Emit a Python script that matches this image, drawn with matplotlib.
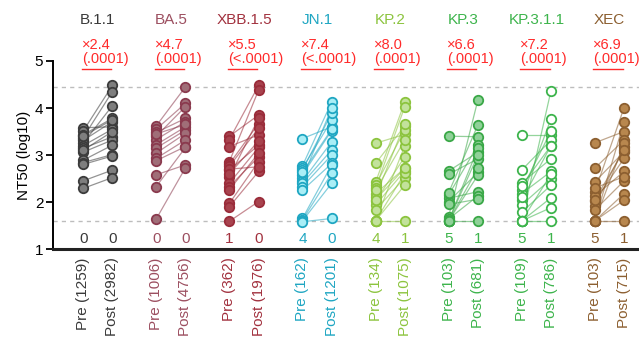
import matplotlib
matplotlib.use("Agg")
import matplotlib.pyplot as plt

plt.rcParams['font.family'] = ['Liberation Sans', 'DejaVu Sans']

# variant panels, pre/post NT50 (log10) pairs
variants = ["B.1.1", "BA.5", "XBB.1.5", "JN.1", "KP.2", "KP.3", "KP.3.1.1", "XEC"]
fold_labels = ["×2.4", "×4.7", "×5.5", "×7.4", "×8.0", "×6.6", "×7.2", "×6.9"]
p_labels = ["(.0001)", "(.0001)", "(<.0001)", "(<.0001)", "(.0001)", "(.0001)", "(.0001)", "(.0001)"]
pre_gmt = [1259, 1006, 362, 162, 134, 103, 109, 103]
post_gmt = [2982, 4756, 1976, 1201, 1075, 681, 786, 715]
pre_below = [0, 0, 1, 4, 4, 5, 5, 5]
post_below = [0, 0, 0, 0, 1, 1, 1, 1]

pre_b11 = [3.58, 3.51, 3.43, 3.37, 3.31, 3.25, 3.20, 3.14, 3.06, 2.89, 2.84, 2.80, 2.45, 2.29, 3.40, 3.10]
post_b11 = [3.60, 4.48, 3.78, 4.35, 3.71, 4.05, 3.55, 3.39, 3.32, 3.21, 3.01, 2.98, 2.68, 2.52, 3.75, 3.50]
pre_ba5 = [3.62, 3.55, 3.48, 3.40, 3.33, 3.22, 3.15, 3.04, 2.93, 2.88, 2.58, 2.33, 1.64, 3.45]
post_ba5 = [4.45, 4.10, 3.78, 4.03, 3.71, 3.60, 3.53, 3.46, 3.32, 3.18, 2.79, 3.16, 2.73, 3.65]
pre_xbb = [3.40, 3.33, 3.18, 2.86, 2.81, 2.76, 2.68, 2.53, 2.40, 2.33, 2.26, 1.97, 1.90, 1.59, 2.70, 2.60]
post_xbb = [3.85, 4.48, 3.43, 4.38, 3.67, 3.57, 3.21, 3.78, 3.16, 2.96, 3.04, 2.86, 2.65, 2.01, 2.75, 3.30]
pre_jn1 = [3.35, 2.77, 2.72, 2.68, 2.58, 2.51, 2.45, 2.40, 2.33, 2.25, 1.65, 1.62, 1.60, 1.58, 2.63]
post_jn1 = [3.60, 4.13, 3.74, 3.89, 3.52, 4.00, 3.28, 3.11, 3.00, 2.82, 2.79, 2.61, 2.40, 1.65, 3.55]
pre_kp2 = [3.25, 2.82, 2.42, 2.36, 2.29, 2.18, 2.11, 2.02, 1.94, 1.83, 1.60, 1.60, 1.60, 1.60, 2.25, 2.05]
post_kp2 = [3.44, 3.62, 4.13, 3.53, 4.03, 2.72, 3.67, 2.96, 2.66, 2.52, 1.60, 2.61, 3.20, 2.36, 3.32, 2.72]
pre_kp3 = [3.40, 2.66, 2.59, 2.15, 2.08, 2.01, 1.69, 1.64, 1.60, 1.60, 1.60, 1.60, 1.60, 2.20, 1.95]
post_kp3 = [3.39, 3.06, 2.92, 3.21, 2.22, 2.63, 4.17, 2.13, 1.60, 3.14, 2.57, 3.00, 2.72, 3.64, 2.06]
pre_kp311 = [3.43, 2.68, 2.41, 2.26, 2.18, 2.04, 1.94, 1.78, 1.60, 1.60, 1.60, 1.60, 1.60, 2.10, 2.35]
post_kp311 = [3.43, 3.32, 2.92, 3.51, 2.65, 3.20, 2.49, 2.36, 4.37, 1.60, 2.09, 1.88, 2.59, 3.77, 3.20]
pre_xec = [3.26, 2.72, 2.43, 2.22, 2.13, 2.02, 1.92, 1.83, 1.60, 1.60, 1.60, 1.60, 1.60, 2.30, 2.05]
post_xec = [3.50, 3.32, 3.07, 4.01, 2.65, 2.93, 3.16, 2.45, 3.71, 1.60, 2.18, 2.04, 3.25, 2.54, 3.10]

pre_all = [pre_b11, pre_ba5, pre_xbb, pre_jn1, pre_kp2, pre_kp3, pre_kp311, pre_xec]
post_all = [post_b11, post_ba5, post_xbb, post_jn1, post_kp2, post_kp3, post_kp311, post_xec]

lod = 1.60
upper = 4.45

# text colour, marker face, marker edge
text_colors = ["#3a3a3a", "#9c4f60", "#a2323f", "#1fa6c2", "#8cc43e", "#3db44c", "#3db44c", "#8c5f30"]
face_colors = ["#7e7e7e", "#a06e78", "#a8434e", "#a9eef6", "#c2e29b", "#8fd198", "#ffffff", "#b8874e"]
edge_colors = ["#3c3c3c", "#8a3a4e", "#9a2c3a", "#1fa6c2", "#8cc43e", "#3aa847", "#3db44c", "#8c5f30"]

fig = plt.figure(figsize=(6.39, 3.37), dpi=100)
ax = fig.add_axes([0.083, 0.261, 0.917, 0.558])

ax.axhline(upper, color="#bdbdbd", ls=(0, (3, 3)), lw=1, zorder=0)
ax.axhline(lod, color="#bdbdbd", ls=(0, (3, 3)), lw=1, zorder=0)

tick_pos = []
tick_lab = []
tick_col = []
for i, name in enumerate(variants):
    x0 = 2.5 * i
    x1 = x0 + 1
    pre = pre_all[i]
    post = post_all[i]
    for a, b in zip(pre, post):
        ax.plot([x0, x1], [a, b], color=edge_colors[i], lw=0.9, alpha=0.55, zorder=2)
    ax.plot([x0] * len(pre), pre, "o", ms=6.8, mfc=face_colors[i], mec=edge_colors[i],
            mew=1.3, zorder=3, clip_on=False)
    ax.plot([x1] * len(post), post, "o", ms=6.8, mfc=face_colors[i], mec=edge_colors[i],
            mew=1.3, zorder=3, clip_on=False)

    # headers above the panel
    ax.text(x0 + 0.5, 5.87, name, ha="center", va="center", fontsize=11,
            color=text_colors[i], clip_on=False)
    ax.text(x0 - 0.05, 5.35, fold_labels[i], ha="left", va="center", fontsize=10.5,
            color="#ff2a2a", clip_on=False)
    ax.text(x0 - 0.05, 5.05, p_labels[i], ha="left", va="center", fontsize=10.5,
            color="#ff2a2a", clip_on=False)
    ax.plot([x0 - 0.05, x0 + 0.95], [4.83, 4.83], color="#ff2a2a", lw=1, clip_on=False)

    # counts below the detection limit
    ax.text(x0, 1.21, str(pre_below[i]), ha="center", va="center", fontsize=11,
            color=text_colors[i])
    ax.text(x1, 1.21, str(post_below[i]), ha="center", va="center", fontsize=11,
            color=text_colors[i])

    tick_pos += [x0, x1]
    tick_lab += ["Pre (%d)" % pre_gmt[i], "Post (%d)" % post_gmt[i]]
    tick_col += [text_colors[i], text_colors[i]]

ax.set_xlim(-1.03, 19.01)
ax.set_ylim(1, 5)
ax.set_yticks([1, 2, 3, 4, 5])
ax.set_xticks(tick_pos)
ax.set_xticklabels(tick_lab, rotation=90, fontsize=11)
for lab, c in zip(ax.get_xticklabels(), tick_col):
    lab.set_color(c)
ax.tick_params(axis="x", length=0, pad=6)
ax.tick_params(axis="y", labelsize=11, length=5, width=1.3, direction="out", pad=2)
ax.set_ylabel("NT50 (log10)", fontsize=11, labelpad=3)

ax.spines["top"].set_visible(False)
ax.spines["right"].set_visible(False)
ax.spines["left"].set_linewidth(1.4)
ax.spines["bottom"].set_linewidth(2.2)
ax.spines["bottom"].set_color("#222222")

fig.savefig("out.png", dpi=100)
